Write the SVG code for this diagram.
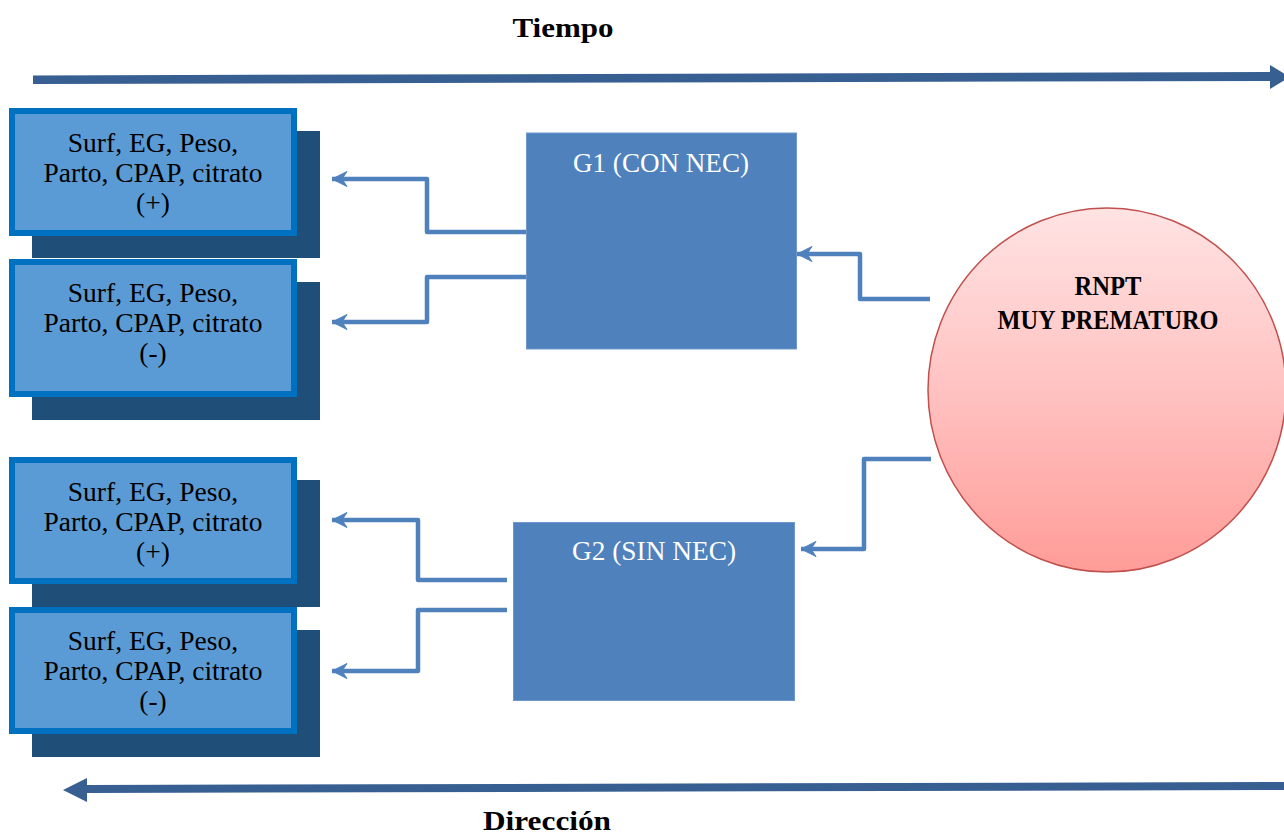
<svg xmlns="http://www.w3.org/2000/svg" width="1284" height="834" viewBox="0 0 1284 834">
<defs>
<linearGradient id="pink" x1="0" y1="0" x2="0" y2="1">
<stop offset="0" stop-color="#ffe3e3"/>
<stop offset="0.5" stop-color="#ffc2c1"/>
<stop offset="1" stop-color="#ff9c98"/>
</linearGradient>
<marker id="ah" markerUnits="userSpaceOnUse" markerWidth="20" markerHeight="18" refX="18" refY="9" orient="auto" viewBox="0 0 20 18">
<path d="M18,9 L3,1.5 L8,9 L3,16.5 Z" fill="#4f81bd" stroke="#4f81bd" stroke-width="1" stroke-linejoin="round"/>
</marker>
<style>
.sh{fill:#1f4e79}
.bx{fill:#5b9bd5;stroke:#0070c0;stroke-width:6}
.bt{font-family:"Liberation Serif",serif;font-size:27.5px;fill:#000;text-anchor:middle}
.g{fill:#4f81bd;stroke:#6f97cb;stroke-width:1}
.gt{font-family:"Liberation Serif",serif;font-size:27px;fill:#fff;text-anchor:middle}
.bold{font-family:"Liberation Serif",serif;font-weight:bold;font-size:27px;fill:#000;text-anchor:middle}
.cn{fill:none;stroke:#4f81bd;stroke-width:4.5;stroke-linejoin:round}
.tl{fill:#375f91}
</style>
</defs>

<g id="timeline-top">
<polygon class="tl" points="33,75.5 1270,72 1270,65 1290,77 1270,89 1270,81 33,84"/>
<text class="bold" x="563" y="37" textLength="101" lengthAdjust="spacingAndGlyphs">Tiempo</text>
</g>

<g id="timeline-bottom">
<polygon class="tl" points="1284,782 87,785 87,778 63,790 87,802 87,793 1284,790"/>
<text class="bold" x="547" y="830" textLength="128" lengthAdjust="spacingAndGlyphs">Dirección</text>
</g>

<g id="box-g1-plus">
<rect class="sh" x="32" y="131" width="288" height="127"/>
<rect class="bx" x="12" y="111" width="282" height="122"/>
<text class="bt" x="153" y="152">Surf, EG, Peso,</text>
<text class="bt" x="153" y="182">Parto, CPAP, citrato</text>
<text class="bt" x="153" y="212">(+)</text>
</g>

<g id="box-g1-minus">
<rect class="sh" x="32" y="282" width="288" height="138"/>
<rect class="bx" x="12" y="262" width="282" height="132"/>
<text class="bt" x="153" y="302">Surf, EG, Peso,</text>
<text class="bt" x="153" y="332">Parto, CPAP, citrato</text>
<text class="bt" x="153" y="362">(-)</text>
</g>

<g id="box-g2-plus">
<rect class="sh" x="32" y="480" width="288" height="127"/>
<rect class="bx" x="12" y="460" width="282" height="121"/>
<text class="bt" x="153" y="501">Surf, EG, Peso,</text>
<text class="bt" x="153" y="531">Parto, CPAP, citrato</text>
<text class="bt" x="153" y="561">(+)</text>
</g>

<g id="box-g2-minus">
<rect class="sh" x="32" y="630" width="288" height="127"/>
<rect class="bx" x="12" y="610" width="282" height="121"/>
<text class="bt" x="153" y="650">Surf, EG, Peso,</text>
<text class="bt" x="153" y="680">Parto, CPAP, citrato</text>
<text class="bt" x="153" y="710">(-)</text>
</g>

<g id="g1">
<rect class="g" x="526.5" y="133" width="270" height="216"/>
<text class="gt" x="661" y="172" textLength="176" lengthAdjust="spacingAndGlyphs">G1 (CON NEC)</text>
</g>

<g id="g2">
<rect class="g" x="513.5" y="522.5" width="281" height="178"/>
<text class="gt" x="654" y="560" textLength="164" lengthAdjust="spacingAndGlyphs">G2 (SIN NEC)</text>
</g>

<g id="rnpt">
<ellipse cx="1107" cy="390" rx="179" ry="182" fill="url(#pink)" stroke="#c0504d" stroke-width="1.5"/>
<text class="bold" x="1108" y="295" textLength="67" lengthAdjust="spacingAndGlyphs">RNPT</text>
<text class="bold" x="1108" y="329" textLength="221" lengthAdjust="spacingAndGlyphs">MUY PREMATURO</text>
</g>

<g id="connectors">
<path class="cn" d="M526,232 H427 V179 H332" marker-end="url(#ah)"/>
<path class="cn" d="M526,277 H427 V322 H332" marker-end="url(#ah)"/>
<path class="cn" d="M930,299 H860 V254 H797" marker-end="url(#ah)"/>
<path class="cn" d="M507,580 H418 V520 H332" marker-end="url(#ah)"/>
<path class="cn" d="M507,610 H418 V671 H332" marker-end="url(#ah)"/>
<path class="cn" d="M931,459 H864 V549 H801" marker-end="url(#ah)"/>
</g>
</svg>
